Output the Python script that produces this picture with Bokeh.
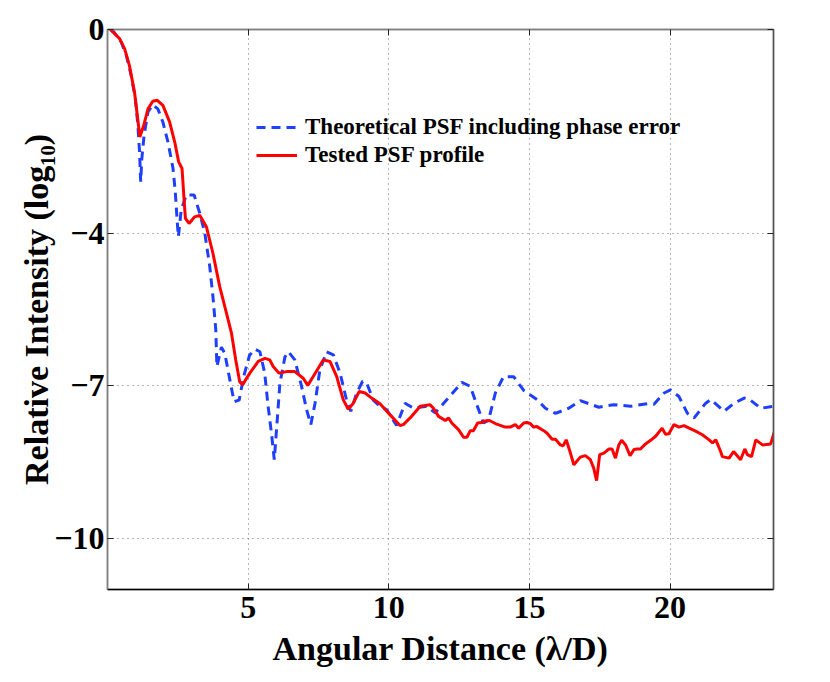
from bokeh.plotting import figure
from bokeh.models import LinearAxis, FixedTicker, Range1d, Legend, LegendItem
from bokeh.embed import file_html
from bokeh.resources import INLINE

# ---- data ----
theory_x = [0.10, 0.19, 0.49, 0.67, 0.84, 0.99, 1.08, 1.14, 1.18, 1.22, 1.30, 1.44, 1.61, 1.79,
            1.97, 2.15, 2.33, 2.41, 2.48, 2.52, 2.62, 2.80, 3.08, 3.28, 3.46, 3.63, 3.75, 3.85,
            3.89, 4.05, 4.17, 4.35, 4.50, 4.68, 4.85, 5.05, 5.24, 5.42, 5.59, 5.71, 5.83, 5.93,
            6.01, 6.13, 6.31, 6.43, 6.66, 6.90, 7.08, 7.23, 7.38, 7.55, 7.79, 8.03, 8.27, 8.50,
            8.65, 8.86, 9.07, 9.22, 9.45, 9.69, 9.93, 10.28, 10.58, 10.88, 11.10, 11.35, 11.65,
            12.07, 12.60, 12.90, 13.13, 13.37, 13.55, 13.79, 14.08, 14.44, 14.80, 15.27, 15.57,
            15.93, 16.40, 16.81, 17.47, 18.00, 18.60, 19.19, 19.43, 19.79, 20.02, 20.32, 20.62,
            20.86, 21.27, 21.45, 21.92, 22.28, 22.64, 22.81, 23.23, 23.70]
theory_y = [0.00, -0.02, -0.25, -0.51, -0.90, -1.36, -1.88, -2.41, -2.99, -2.54, -2.08, -1.62,
            -1.48, -1.56, -1.82, -2.21, -2.73, -3.19, -3.78, -4.07, -3.55, -3.25, -3.25, -3.61,
            -4.00, -4.63, -5.25, -5.90, -6.62, -6.24, -6.36, -6.88, -7.31, -7.28, -6.80, -6.40,
            -6.28, -6.33, -6.75, -7.40, -7.93, -8.45, -7.86, -6.95, -6.43, -6.33, -6.49, -7.01,
            -7.47, -7.76, -7.34, -6.69, -6.33, -6.39, -6.75, -7.28, -7.50, -7.14, -6.91, -6.95,
            -7.28, -7.40, -7.47, -7.78, -7.34, -7.44, -7.42, -7.40, -7.53, -7.27, -6.93, -7.01,
            -7.37, -7.73, -7.67, -7.14, -6.82, -6.82, -7.09, -7.27, -7.44, -7.54, -7.44, -7.29,
            -7.42, -7.37, -7.40, -7.35, -7.36, -7.14, -7.08, -7.21, -7.54, -7.63, -7.34, -7.27,
            -7.50, -7.34, -7.24, -7.26, -7.44, -7.40]

tested_x = [0.10, 0.43, 0.61, 0.78, 0.96, 1.06, 1.15, 1.29, 1.44, 1.61, 1.77, 1.97, 2.21, 2.39,
            2.53, 2.65, 2.72, 2.77, 2.90, 3.10, 3.28, 3.52, 3.75, 3.99, 4.23, 4.41, 4.56, 4.70,
            4.80, 5.06, 5.36, 5.60, 5.77, 5.89, 6.10, 6.37, 6.66, 6.96, 7.12, 7.31, 7.67, 7.91,
            8.15, 8.38, 8.56, 8.74, 8.95, 9.16, 9.39, 9.69, 10.05, 10.40, 10.52, 10.76, 11.12,
            11.47, 11.59, 11.77, 12.01, 12.13, 12.24, 12.48, 12.66, 12.78, 12.90, 13.01, 13.16,
            13.31, 13.43, 13.58, 13.79, 14.14, 14.32, 14.50, 14.62, 14.80, 14.91, 15.03, 15.15,
            15.27, 15.51, 15.63, 15.81, 15.93, 16.10, 16.20, 16.31, 16.46, 16.58, 16.81, 16.99,
            17.17, 17.29, 17.39, 17.50, 17.65, 17.83, 17.94, 18.06, 18.18, 18.28, 18.42, 18.58,
            18.72, 18.83, 18.95, 19.13, 19.31, 19.49, 19.72, 19.84, 19.96, 20.14, 20.32, 20.50,
            20.68, 20.91, 21.15, 21.39, 21.51, 21.63, 21.80, 21.86, 22.10, 22.26, 22.51, 22.66,
            22.75, 22.90, 23.05, 23.29, 23.58, 23.70]
tested_y = [0.00, -0.18, -0.38, -0.71, -1.23, -1.69, -2.11, -1.88, -1.56, -1.41, -1.39, -1.49,
            -1.82, -2.21, -2.60, -2.73, -3.32, -3.71, -3.81, -3.68, -3.65, -3.88, -4.40, -5.05,
            -5.57, -5.97, -6.49, -6.92, -6.98, -6.75, -6.52, -6.46, -6.49, -6.62, -6.75, -6.72,
            -6.72, -6.85, -6.99, -6.82, -6.49, -6.52, -6.82, -7.27, -7.46, -7.34, -7.11, -7.14,
            -7.24, -7.35, -7.57, -7.78, -7.76, -7.63, -7.40, -7.37, -7.44, -7.60, -7.68, -7.63,
            -7.73, -7.86, -8.01, -8.01, -7.88, -7.88, -7.73, -7.72, -7.69, -7.68, -7.74, -7.81,
            -7.81, -7.76, -7.83, -7.73, -7.72, -7.74, -7.81, -7.80, -7.88, -7.93, -8.05, -8.05,
            -8.16, -8.18, -8.06, -8.32, -8.55, -8.40, -8.37, -8.45, -8.62, -8.86, -8.35, -8.32,
            -8.24, -8.24, -8.42, -8.16, -8.07, -8.16, -8.37, -8.25, -8.24, -8.24, -8.14, -8.07,
            -7.99, -7.83, -7.95, -7.94, -7.76, -7.81, -7.78, -7.83, -7.89, -7.96, -8.06, -8.12,
            -8.06, -8.29, -8.39, -8.42, -8.29, -8.45, -8.24, -8.35, -8.39, -8.06, -8.16, -8.14,
            -7.92]

x_ticks = [5, 10, 15, 20]
y_ticks = [0, -4, -7, -10]
y_tick_labels = {0: "0", -4: "\u22124", -7: "\u22127", -10: "\u221210"}

legend_labels = ["Theoretical PSF including phase error", "Tested PSF profile"]
x_label = "Angular Distance (\u03bb/D)"
y_label = "Relative Intensity (log\u2081\u2080)"

FONT = "Liberation Serif"
W, H = 822, 674
FL, FT, FR, FB = 107, 29, 773, 589   # frame edges in page pixels

p = figure(width=W, height=H, output_backend="svg", toolbar_location=None,
           x_range=Range1d(0, 23.68), y_range=Range1d(-11, 0),
           min_border_left=FL, min_border_right=W - FR,
           min_border_top=FT, min_border_bottom=H - FB)
p.background_fill_color = "white"
p.border_fill_color = "white"
p.outline_line_color = "#7f7f7f"
p.outline_line_width = 1.5

# grid
for g, t in ((p.xgrid, x_ticks), (p.ygrid, y_ticks)):
    g.ticker = FixedTicker(ticks=t)
    g.grid_line_color = "#6f6f6f"
    g.grid_line_dash = "1 4"
    g.grid_line_width = 1

def style_axis(ax, ticks, color, show_labels=True):
    ax.ticker = FixedTicker(ticks=ticks)
    ax.axis_line_color = color
    ax.axis_line_width = 1.5
    ax.major_tick_in = 6
    ax.major_tick_out = 0
    ax.major_tick_line_color = "#222222"
    ax.major_tick_line_width = 1
    ax.minor_tick_line_color = None
    if show_labels:
        ax.major_label_text_font = FONT
        ax.major_label_text_font_style = "bold"
        ax.major_label_text_font_size = "32px"
        ax.major_label_text_color = "black"
        ax.axis_label_text_font = FONT
        ax.axis_label_text_font_style = "bold"
        ax.axis_label_text_font_size = "34px"
        ax.axis_label_text_color = "black"
    else:
        ax.major_label_text_font_size = "1px"
        ax.major_label_text_color = None
        ax.major_label_standoff = 0

xa = p.xaxis[0]
style_axis(xa, x_ticks, "black")
xa.axis_label = x_label
xa.major_label_standoff = 7
xa.axis_label_standoff = 9

ya = p.yaxis[0]
style_axis(ya, y_ticks, "#7f7f7f")
ya.major_label_overrides = y_tick_labels
ya.axis_label = y_label
ya.major_label_standoff = 3
ya.axis_label_standoff = -4

top = LinearAxis()
style_axis(top, x_ticks, "#7f7f7f", show_labels=False)
p.add_layout(top, "above")
right = LinearAxis()
style_axis(right, y_ticks, "#555555", show_labels=False)
p.add_layout(right, "right")

r_theory = p.line(theory_x, theory_y, line_color="#1f3fff", line_width=3,
                  line_dash="9 6")
r_tested = p.line(tested_x, tested_y, line_color="#ff0000", line_width=3)

legend = Legend(items=[LegendItem(label=legend_labels[0], renderers=[r_theory]),
                       LegendItem(label=legend_labels[1], renderers=[r_tested])],
                location=(149, 421))
legend.label_text_font = FONT
legend.label_text_font_style = "bold"
legend.label_text_font_size = "23px"
legend.label_text_color = "black"
legend.glyph_width = 41
legend.glyph_height = 22
legend.label_height = 22
legend.label_standoff = 8
legend.spacing = 2
legend.padding = 0
legend.margin = 0
legend.border_line_color = None
legend.background_fill_alpha = 0
p.add_layout(legend, "center")

open("out.html", "w").write(file_html(p, INLINE))
